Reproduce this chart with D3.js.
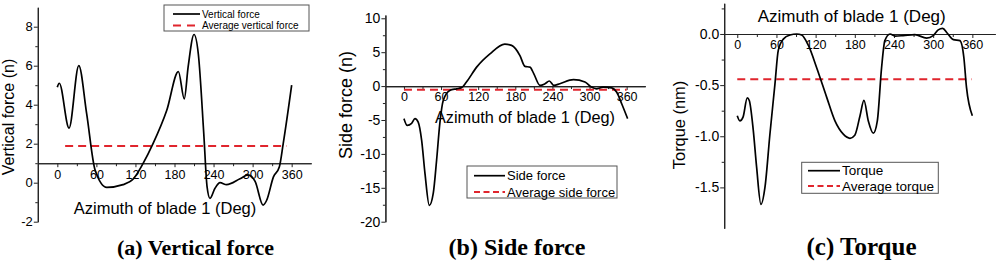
<!DOCTYPE html>
<html>
<head>
<meta charset="utf-8">
<script src="https://cdn.jsdelivr.net/npm/d3@7"></script>
<style>
body { margin: 0; background: #fff; }
svg text { font-family: Arial, "Liberation Sans", sans-serif; fill: #000; }
.title { font-family: "Times New Roman", "Liberation Serif", serif; font-weight: bold; }
</style>
</head>
<body>
<svg id="chart" width="1000" height="264"></svg>
<script>
// values
const vertAz    = [0, 3, 18, 33, 45, 58, 76, 101, 117, 132, 147, 168, 186, 195, 201, 210, 216.6, 225, 230, 234.5, 242, 250, 260, 280.6, 293, 304, 316, 321.6, 332, 341, 347, 360];
const vertForce = [4.9, 5.1, 2.8, 6.0, 3.55, 0.65, -0.24, -0.1, 0.2, 1.0, 2.0, 3.7, 5.7, 4.3, 5.95, 7.6, 6.6, 2.5, -0.2, -0.8, -0.3, 0, -0.1, 0.2, 0.4, 0.05, -1.15, -0.9, 0.3, 0.8, 2.0, 5.0];
const vertAvg = 1.88;
const vertAvgSpan = [12, 352];

const sideAz    = [0, 5.4, 12.4, 17.8, 23, 28.6, 34, 41, 47.4, 52.8, 58, 63.6, 74, 85, 93, 101, 117.5, 139, 163, 174, 187.5, 195.6, 203.7, 210, 220, 228, 235, 242.5, 252, 274, 292.6, 303, 311, 322, 335.7, 344, 352, 361.6];
const sideForce = [-4.8, -5.8, -5.5, -4.8, -5.3, -8.0, -12.9, -17.6, -15.8, -10.9, -5.5, -2.1, -0.64, -0.4, -0.25, 0.6, 2.8, 4.75, 6.2, 6.0, 4.5, 2.9, 2.8, 1.8, 0.1, 0.35, 0.75, 0.1, 0.35, 0.95, 0.6, -0.15, -0.4, -0.15, -0.25, -0.9, -2.6, -4.8];
const sideAvg = -0.54;
const sideAvgSpan = [0, 360];

const torqueAz  = [0, 4, 9, 15.3, 18.4, 24.5, 29.6, 36.3, 42.4, 50, 57.7, 62.8, 70.5, 80.7, 91, 98.6, 108.8, 121.6, 137, 149.6, 162.4, 172.6, 180, 188, 194, 200.7, 208.4, 214.5, 221, 226, 234, 241.6, 254, 272, 290, 300, 307.8, 314.6, 321.7, 331, 341, 347, 351, 360];
const torque    = [-0.80, -0.85, -0.81, -0.625, -0.65, -0.94, -1.30, -1.667, -1.50, -0.98, -0.49, -0.16, -0.05, -0.01, 0, -0.01, -0.11, -0.33, -0.62, -0.85, -0.98, -1.02, -0.99, -0.80, -0.65, -0.85, -0.97, -0.85, -0.33, -0.065, 0, -0.02, -0.016, -0.007, -0.04, -0.016, 0.04, 0.055, 0.007, -0.055, -0.065, -0.23, -0.52, -0.80];
const torqueAvg = -0.443;
const torqueAvgSpan = [0, 359];

const azTicks     = [0, 60, 120, 180, 240, 300, 360];
const vertTicks   = [-2, 0, 2, 4, 6, 8];
const sideTicks   = [-20, -15, -10, -5, 0, 5, 10];
const torqueTicks = [-1.5, -1.0, -0.5, 0.0];

const xTitle = "Azimuth of blade 1 (Deg)";
const yTitles = ["Vertical force (n)", "Side force (n)", "Torque (nm)"];
const panelTitles = ["(a) Vertical force", "(b) Side force", "(c) Torque"];
const legendNames = [["Vertical force", "Average vertical force"], ["Side force", "Average side force"], ["Torque", "Average torque"]];

const RED = "#e0252d";

let svg = d3.select("#chart");

let panels = [
	{
		az: vertAz, vals: vertForce, avg: vertAvg, span: vertAvgSpan, yTicks: vertTicks, yMinorStep: 1,
		xDom: [-30, 390], xRange: [37.8, 311.2], yDom: [-2, 9], yRange: [221.7, 7.2], cross: 1,
		yFmt: d => String(d), yTickFont: 13,
		xTitle: {x: 165, y: 214, size: 16.5}, yTitle: {x: 14, y: 117, size: 16},
		title: {x: 195.5, y: 255, size: 22},
		legend: {x: 164, y: 5, w: 145, h: 26, rows: [14, 25.5], lx1: 173, lx2: 200, tx: 202, size: 10, dash: "8,6"}
	},
	{
		az: sideAz, vals: sideForce, avg: sideAvg, span: sideAvgSpan, yTicks: sideTicks, yMinorStep: 2.5,
		xDom: [-30, 390], xRange: [385.4, 645.2], yDom: [-20, 10.5], yRange: [221.7, 14.9], cross: 0,
		yFmt: d => String(d), yTickFont: 14,
		xTitle: {x: 525, y: 122.5, size: 16.3}, yTitle: {x: 352, y: 105, size: 18},
		title: {x: 517, y: 255, size: 24},
		legend: {x: 467, y: 166, w: 150, h: 32, rows: [175.7, 192], lx1: 474, lx2: 505, tx: 507, size: 13, dash: "6,3.5"}
	},
	{
		az: torqueAz, vals: torque, avg: torqueAvg, span: torqueAvgSpan, yTicks: torqueTicks, yMinorStep: 0.25,
		xDom: [-20, 395], xRange: [724.2, 995.2], yDom: [-1.9, 0.3], yRange: [228.3, 3.3], cross: 0,
		yFmt: d => d.toFixed(1), yTickFont: 14,
		xTitle: {x: 851.7, y: 21.7, size: 17}, yTitle: {x: 685, y: 125, size: 16.4},
		title: {x: 861.5, y: 255, size: 25},
		legend: {x: 801.7, y: 162.3, w: 136.6, h: 31, rows: [170.7, 186], lx1: 808, lx2: 840, tx: 842, size: 13.5, dash: "6,3.5"}
	}
];

function styleAxis(g) {
	g.selectAll("path.domain").attr("stroke", "#222").attr("stroke-width", 1.1);
	g.selectAll(".tick line").attr("stroke", "#222").attr("stroke-width", 1);
}

function drawPanel(p, i) {
	let x = d3.scaleLinear().domain(p.xDom).range(p.xRange);
	let y = d3.scaleLinear().domain(p.yDom).range(p.yRange);
	let g = svg.append("g");

	// minor ticks first (no labels)
	let xMinor = d3.range(30, 390, 60).filter(d => d < p.xDom[1]);
	let yMinor = d3.range(p.yTicks[0] + p.yMinorStep, p.yDom[1], p.yMinorStep * 2);

	g.append("g")
		.attr("transform", `translate(0,${y(p.cross)})`)
		.call(d3.axisBottom(x).tickValues(xMinor).tickSize(3).tickSizeOuter(0).tickFormat(""))
		.call(styleAxis);
	g.append("g")
		.attr("transform", `translate(${p.xRange[0]},0)`)
		.call(d3.axisLeft(y).tickValues(yMinor).tickSize(2.5).tickSizeOuter(0).tickFormat(""))
		.call(styleAxis);

	let xa = g.append("g")
		.attr("transform", `translate(0,${y(p.cross)})`)
		.call(d3.axisBottom(x).tickValues(azTicks).tickSize(4).tickSizeOuter(0).tickPadding(2.5));
	xa.call(styleAxis);
	xa.selectAll("text").attr("font-size", 12.5).attr("font-family", null);

	let ya = g.append("g")
		.attr("transform", `translate(${p.xRange[0]},0)`)
		.call(d3.axisLeft(y).tickValues(p.yTicks).tickSize(4).tickSizeOuter(0).tickPadding(1).tickFormat(p.yFmt));
	ya.call(styleAxis);
	ya.selectAll("text").attr("font-size", p.yTickFont).attr("font-family", null);

	// average line
	g.append("line")
		.attr("x1", x(p.span[0])).attr("x2", x(p.span[1]))
		.attr("y1", y(p.avg)).attr("y2", y(p.avg))
		.attr("stroke", RED).attr("stroke-width", 2).attr("stroke-dasharray", "8,5");

	let pts = p.az.map((a, k) => [a, p.vals[k]]);
	let line = d3.line().x(d => x(d[0])).y(d => y(d[1])).curve(d3.curveMonotoneX);
	g.append("path")
		.attr("d", line(pts))
		.attr("fill", "none")
		.attr("stroke", "#000")
		.attr("stroke-width", 1.7);

	// axis titles
	g.append("text")
		.attr("x", p.xTitle.x).attr("y", p.xTitle.y)
		.attr("text-anchor", "middle").attr("font-size", p.xTitle.size)
		.text(xTitle);
	g.append("text")
		.attr("transform", `translate(${p.yTitle.x},${p.yTitle.y}) rotate(-90)`)
		.attr("text-anchor", "middle").attr("font-size", p.yTitle.size)
		.text(yTitles[i]);

	// legend
	let L = p.legend;
	let lg = g.append("g");
	lg.append("rect")
		.attr("x", L.x).attr("y", L.y).attr("width", L.w).attr("height", L.h)
		.attr("fill", "#fff").attr("stroke", "#555").attr("stroke-width", 1);
	lg.append("line")
		.attr("x1", L.lx1).attr("x2", L.lx2).attr("y1", L.rows[0]).attr("y2", L.rows[0])
		.attr("stroke", "#000").attr("stroke-width", 1.7);
	lg.append("line")
		.attr("x1", L.lx1).attr("x2", L.lx2).attr("y1", L.rows[1]).attr("y2", L.rows[1])
		.attr("stroke", RED).attr("stroke-width", 2).attr("stroke-dasharray", L.dash);
	legendNames[i].forEach((name, k) => {
		lg.append("text")
			.attr("x", L.tx).attr("y", L.rows[k])
			.attr("dy", "0.35em").attr("font-size", L.size)
			.text(name);
	});

	// panel caption
	g.append("text")
		.attr("class", "title")
		.attr("x", p.title.x).attr("y", p.title.y)
		.attr("text-anchor", "middle").attr("font-size", p.title.size)
		.text(panelTitles[i]);
}

panels.forEach((p, i) => drawPanel(p, i));
</script>
</body>
</html>
